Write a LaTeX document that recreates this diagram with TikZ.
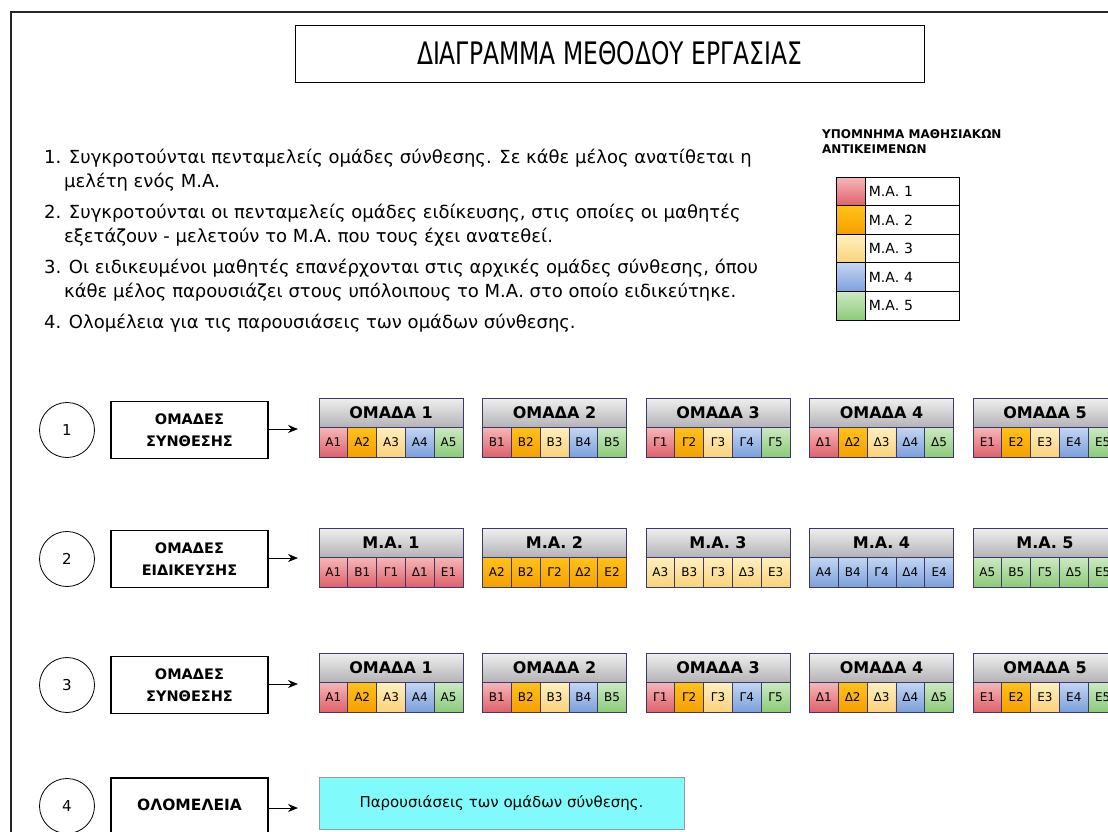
\documentclass[tikz,border=0pt]{standalone}
\usepackage{fontspec}
\setmainfont{DejaVu Sans}
\usetikzlibrary{arrows.meta}
\definecolor{hdtop}{HTML}{EFEFEF}
\definecolor{hdbot}{HTML}{B4B4B8}
\definecolor{hdborder}{HTML}{3C3868}
\definecolor{rtop}{HTML}{F6B8B8}\definecolor{rbot}{HTML}{E0606A}
\definecolor{otop}{HTML}{FFC21A}\definecolor{obot}{HTML}{F5A000}
\definecolor{ytop}{HTML}{FFF0C0}\definecolor{ybot}{HTML}{FAD27A}
\definecolor{btop}{HTML}{C4D6F2}\definecolor{bbot}{HTML}{7CA0DC}
\definecolor{gtop}{HTML}{CDE9C2}\definecolor{gbot}{HTML}{8CCB78}
\definecolor{cyanbox}{HTML}{80FAFA}
\tikzset{
  numcircle/.style={circle,draw,line width=0.8pt,minimum size=55pt,inner sep=0pt,font=\fontsize{15}{15}\selectfont},
  rowlabel/.style={draw,line width=1.2pt,minimum width=157pt,minimum height=57pt,inner sep=0pt,align=center,font=\bfseries\fontsize{14.5}{22}\selectfont},
  grphead/.style={draw=hdborder,line width=1pt,top color=hdtop,bottom color=hdbot,minimum width=144pt,minimum height=29pt,inner sep=0pt,font=\bfseries\fontsize{16}{16}\selectfont},
  grpcell/.style={draw=hdborder,line width=0.8pt,minimum width=28.8pt,minimum height=30pt,inner sep=0pt,font=\fontsize{12}{12}\selectfont},
  c1/.style={top color=rtop,bottom color=rbot},
  c2/.style={top color=otop,bottom color=obot},
  c3/.style={top color=ytop,bottom color=ybot},
  c4/.style={top color=btop,bottom color=bbot},
  c5/.style={top color=gtop,bottom color=gbot},
  instr/.style={anchor=base west,inner sep=0pt,font=\fontsize{18}{20}\selectfont},
  legcell/.style={draw,line width=0.8pt,minimum width=29pt,minimum height=28.6pt,inner sep=0pt},
  legtext/.style={draw,line width=0.8pt,minimum width=94pt,minimum height=28.6pt,inner sep=2pt,anchor=west,text width=88pt,font=\fontsize{14}{14}\selectfont},
  arr/.style={line width=1pt,-{Stealth[length=10pt,width=8pt]}},
}
\begin{document}
\begin{tikzpicture}[x=1pt,y=-1pt]
\useasboundingbox (0,0) rectangle (1108,831);
\clip (0,0) rectangle (1108,831);
% frame
\draw[line width=2.6pt,black!85,line cap=rect] (11,900) -- (11,12) -- (1120,12);
% title
\node[draw,line width=1pt,minimum width=629pt,minimum height=57pt] (title) at (609.5,53.5) {\resizebox{385pt}{23pt}{ΔΙΑΓΡΑΜΜΑ ΜΕΘΟΔΟΥ ΕΡΓΑΣΙΑΣ}};
% instructions
\node[instr] (i1) at (44,163) {1. Συγκροτούνται πενταμελείς ομάδες σύνθεσης. Σε κάθε μέλος ανατίθεται η};
\node[instr] (i1b) at (64,187) {μελέτη ενός Μ.Α.};
\node[instr] (i2) at (44,218) {2. Συγκροτούνται οι πενταμελείς ομάδες ειδίκευσης, στις οποίες οι μαθητές};
\node[instr] (i2b) at (64,242) {εξετάζουν - μελετούν το Μ.Α. που τους έχει ανατεθεί.};
\node[instr] (i3) at (44,273) {3. Οι ειδικευμένοι μαθητές επανέρχονται στις αρχικές ομάδες σύνθεσης, όπου};
\node[instr] (i3b) at (64,297) {κάθε μέλος παρουσιάζει στους υπόλοιπους το Μ.Α. στο οποίο ειδικεύτηκε.};
\node[instr] (i4) at (44,328) {4. Ολομέλεια για τις παρουσιάσεις των ομάδων σύνθεσης.};
% legend
\node[anchor=north west,inner sep=0pt,align=left,font=\bfseries\fontsize{12}{15}\selectfont] (legtitle) at (822,129) {ΥΠΟΜΝΗΜΑ ΜΑΘΗΣΙΑΚΩΝ\\ΑΝΤΙΚΕΙΜΕΝΩΝ};
\foreach \k/\cs in {1/c1,2/c2,3/c3,4/c4,5/c5}{
  \node[legcell,\cs] (lc\k) at (850.5,{177+14.3+(\k-1)*28.6}) {};
  \node[legtext] (lt\k) at (lc\k.east) {Μ.Α. \k};
}
% rows
\foreach \r/\y/\txt in {1/430/{ΟΜΑΔΕΣ\\ΣΥΝΘΕΣΗΣ},2/559/{ΟΜΑΔΕΣ\\ΕΙΔΙΚΕΥΣΗΣ},3/685/{ΟΜΑΔΕΣ\\ΣΥΝΘΕΣΗΣ}}{
  \node[numcircle] (n\r) at (67,\y) {\r};
  \node[rowlabel] (lab\r) at (189.5,\y) {\txt};
  \coordinate (e\r) at (298,\y-1);
  \draw[arr] (lab\r.east|-e\r) -- (e\r);
}
% groups rows 1 and 3
\foreach \r/\y in {1/398,3/653}{
  \foreach \g/\L in {1/Α,2/Β,3/Γ,4/Δ,5/Ε}{
    \pgfmathsetmacro{\gx}{319+(\g-1)*163.5}
    \node[grphead] (h\r\g) at (\gx+72,\y+14.5) {ΟΜΑΔΑ \g};
    \foreach \m/\cs in {1/c1,2/c2,3/c3,4/c4,5/c5}{
      \node[grpcell,\cs] (c\r\g\m) at ({\gx+(\m-0.5)*28.8},\y+44) {\L\m};
    }
  }
}
% row 2
\foreach \g/\cs in {1/c1,2/c2,3/c3,4/c4,5/c5}{
  \pgfmathsetmacro{\gx}{319+(\g-1)*163.5}
  \node[grphead] (h2\g) at (\gx+72,528+14.5) {Μ.Α. \g};
  \foreach \m/\L in {1/Α,2/Β,3/Γ,4/Δ,5/Ε}{
    \node[grpcell,\cs] (c2\g\m) at ({\gx+(\m-0.5)*28.8},528+44) {\L\g};
  }
}
% row 4
\node[numcircle] (n4) at (67,806) {4};
\draw[line width=1.2pt] (111,900) -- (111,778) -- (268,778) -- (268,900);
\node[inner sep=0pt,font=\bfseries\fontsize{15.5}{16}\selectfont] (lab4) at (189.5,805) {ΟΛΟΜΕΛΕΙΑ};
\node[draw=black!40,line width=1pt,fill=cyanbox,minimum width=365pt,minimum height=52pt,inner sep=0pt,font=\fontsize{15}{16}\selectfont] (pres) at (501.5,803) {Παρουσιάσεις των ομάδων σύνθεσης.};
\coordinate (lab4e) at (268,808);
\coordinate (a4) at (298,808);
\draw[arr] (lab4e) -- (a4);
\end{tikzpicture}
\end{document}
